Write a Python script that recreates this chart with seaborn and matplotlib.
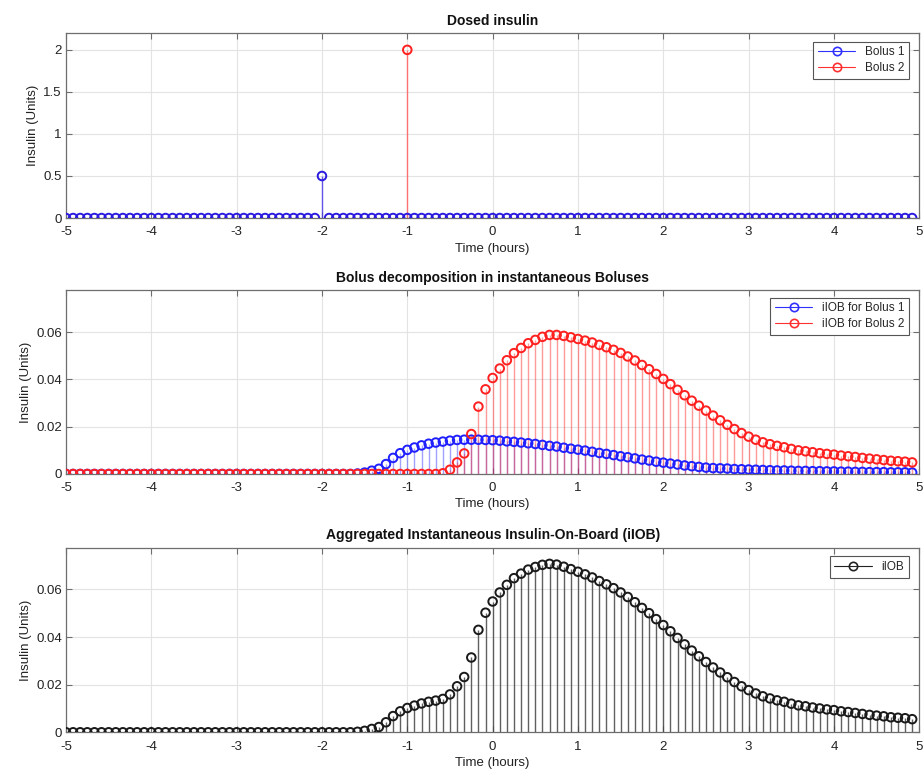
import numpy as np
import matplotlib
matplotlib.use("Agg")
import matplotlib.pyplot as plt
from matplotlib.lines import Line2D
import seaborn as sns

# ---------------- data ----------------
time_hours = np.arange(-60, 60) / 12.0          # 5-minute grid, -5 h .. 4.92 h

bolus1_dose = [0.0] * 36 + [0.5] + [0.0] * 83    # 0.5 U at t = -2 h
bolus2_time = [-1.0]
bolus2_dose = [2.0]                              # 2 U at t = -1 h

iiob_bolus1 = [0.0] * 41 + [
    0.0002, 0.0006, 0.0014, 0.0022, 0.0042, 0.0068, 0.0088, 0.0102, 0.0112, 0.0121,
    0.0128, 0.0133, 0.0137, 0.0141, 0.0144, 0.0145, 0.0145, 0.0145, 0.0144, 0.0143,
    0.0141, 0.0138, 0.0136, 0.0133, 0.0130, 0.0127, 0.0123, 0.0119, 0.0116, 0.0111,
    0.0107, 0.0103, 0.0099, 0.0094, 0.0089, 0.0085, 0.0080, 0.0075, 0.0071, 0.0066,
    0.0061, 0.0057, 0.0052, 0.0048, 0.0044, 0.0040, 0.0036, 0.0033, 0.0030, 0.0027,
    0.0025, 0.0024, 0.0023, 0.0021, 0.0020, 0.0019, 0.0018, 0.0017, 0.0016, 0.0015,
    0.0015, 0.0014, 0.0013, 0.0013, 0.0012, 0.0012, 0.0011, 0.0011, 0.0010, 0.0010,
    0.0009, 0.0009, 0.0008, 0.0008, 0.0008, 0.0007, 0.0007, 0.0007, 0.0006]

iiob_bolus2 = [0.0] * 53 + [
    0.0003, 0.0018, 0.0049, 0.0087, 0.0169, 0.0285, 0.0358, 0.0406, 0.0446, 0.0481,
    0.0511, 0.0533, 0.0553, 0.0567, 0.0580, 0.0588, 0.0588, 0.0584, 0.0578, 0.0571,
    0.0564, 0.0556, 0.0546, 0.0536, 0.0525, 0.0512, 0.0497, 0.0480, 0.0461, 0.0443,
    0.0423, 0.0402, 0.0380, 0.0356, 0.0333, 0.0310, 0.0289, 0.0268, 0.0247, 0.0227,
    0.0208, 0.0190, 0.0173, 0.0158, 0.0145, 0.0134, 0.0126, 0.0119, 0.0113, 0.0106,
    0.0100, 0.0096, 0.0092, 0.0088, 0.0085, 0.0082, 0.0078, 0.0075, 0.0072, 0.0068,
    0.0065, 0.0062, 0.0059, 0.0056, 0.0054, 0.0052, 0.0049]

iiob_total = [0.0] * 41 + [
    0.0002, 0.0006, 0.0014, 0.0022, 0.0042, 0.0068, 0.0088, 0.0102, 0.0112, 0.0121,
    0.0128, 0.0133, 0.0140, 0.0159, 0.0193, 0.0232, 0.0314, 0.0430, 0.0502, 0.0549,
    0.0587, 0.0619, 0.0647, 0.0666, 0.0683, 0.0694, 0.0703, 0.0707, 0.0704, 0.0695,
    0.0685, 0.0674, 0.0663, 0.0650, 0.0635, 0.0621, 0.0605, 0.0587, 0.0568, 0.0546,
    0.0522, 0.0500, 0.0475, 0.0450, 0.0424, 0.0396, 0.0369, 0.0343, 0.0319, 0.0295,
    0.0272, 0.0251, 0.0231, 0.0211, 0.0193, 0.0177, 0.0163, 0.0151, 0.0142, 0.0134,
    0.0128, 0.0120, 0.0113, 0.0109, 0.0104, 0.0100, 0.0096, 0.0093, 0.0088, 0.0085,
    0.0081, 0.0077, 0.0073, 0.0070, 0.0067, 0.0063, 0.0061, 0.0059, 0.0055]

x_ticks = [-5, -4, -3, -2, -1, 0, 1, 2, 3, 4, 5]
x_tick_labels = ["-5", "-4", "-3", "-2", "-1", "0", "1", "2", "3", "4", "5"]
y_ticks_dose = [0, 0.5, 1, 1.5, 2]
y_tick_labels_dose = ["0", "0.5", "1", "1.5", "2"]
y_ticks_iob = [0, 0.02, 0.04, 0.06]
y_tick_labels_iob = ["0", "0.02", "0.04", "0.06"]

titles = ["Dosed insulin",
          "Bolus decomposition in instantaneous Boluses",
          "Aggregated Instantaneous Insulin-On-Board (iIOB)"]

# ---------------- style ----------------
sns.set_theme(style="whitegrid")
plt.rcParams["font.family"] = ["Liberation Sans", "DejaVu Sans"]
plt.rcParams["axes.unicode_minus"] = False

fig = plt.figure(figsize=(9.24, 7.74), dpi=100)
left, width = 0.0714, 0.9235
ax1 = fig.add_axes([left, 0.7183, width, 0.2390])
ax2 = fig.add_axes([left, 0.3876, width, 0.2377])
ax3 = fig.add_axes([left, 0.0539, width, 0.2385])

MS = 38
MLW = 1.4


def stems(ax, x, y, color, alpha):
    ax.vlines(x, 0, y, colors=color, linewidth=1.0, alpha=alpha, zorder=2)


def circles(ax, x, y, color):
    sns.scatterplot(x=np.asarray(x), y=np.asarray(y), ax=ax, marker="o", s=MS,
                    facecolor="none", edgecolor=color, linewidth=MLW, zorder=3,
                    legend=False)


def style_axes(ax, title, yticks, ylabels, ymax):
    ax.set_xlim(-5, 5)
    ax.set_ylim(0, ymax)
    ax.set_xticks(x_ticks)
    ax.set_xticklabels(x_tick_labels)
    ax.set_yticks(yticks)
    ax.set_yticklabels(ylabels)
    ax.set_title(title, fontsize=10, fontweight="bold", pad=6, color="#111111")
    ax.set_xlabel("Time (hours)", fontsize=9.5, labelpad=3, color="#222222")
    ax.set_ylabel("Insulin (Units)", fontsize=9.5, labelpad=3, color="#222222")
    ax.grid(True, color="#e3e3e3", linewidth=0.8)
    ax.set_axisbelow(True)
    for sp in ax.spines.values():
        sp.set_color("#6e6e6e")
        sp.set_linewidth(0.9)
        sp.set_visible(True)
    ax.tick_params(axis="both", direction="in", length=4, width=0.8,
                   colors="#6e6e6e", labelcolor="#222222", labelsize=9.5,
                   top=True, right=True, bottom=True, left=True)
    ax.tick_params(axis="x", pad=6)
    ax.tick_params(axis="y", pad=3)


def legend(ax, labels, colors, bbox):
    handles = [Line2D([], [], color=c, linewidth=0.8, marker="o",
                      markerfacecolor="none", markeredgecolor=c,
                      markersize=6, markeredgewidth=1.2) for c in colors]
    lg = ax.legend(handles, labels, loc="upper right", bbox_to_anchor=bbox,
                   fontsize=8.5, frameon=True, fancybox=False, framealpha=1,
                   edgecolor="#555555", handlelength=3.2, handletextpad=0.8,
                   borderpad=0.4, labelspacing=0.3, numpoints=1)
    lg.get_frame().set_linewidth(0.8)


# ---- panel 1: dosed insulin ----
stems(ax1, time_hours, bolus1_dose, "#4a3ae6", 0.85)
stems(ax1, bolus2_time, bolus2_dose, "#ff6666", 0.9)
circles(ax1, bolus2_time, bolus2_dose, "#ff2020")
circles(ax1, time_hours, bolus1_dose, "#2a1ae0")
style_axes(ax1, titles[0], y_ticks_dose, y_tick_labels_dose, 2.2)
legend(ax1, ["Bolus 1", "Bolus 2"], ["#3030ff", "#ff3030"], (0.995, 0.985))

# ---- panel 2: decomposition ----
stems(ax2, time_hours, iiob_bolus1, "#3030ff", 0.45)
stems(ax2, time_hours, iiob_bolus2, "#ff2020", 0.45)
circles(ax2, time_hours, iiob_bolus1, "#2020ff")
circles(ax2, time_hours, iiob_bolus2, "#ff2020")
style_axes(ax2, titles[1], y_ticks_iob, y_tick_labels_iob, 0.0778)
legend(ax2, ["iIOB for Bolus 1", "iIOB for Bolus 2"], ["#3030ff", "#ff3030"], (0.995, 0.99))

# ---- panel 3: aggregated ----
stems(ax3, time_hours, iiob_total, "#444444", 0.85)
circles(ax3, time_hours, iiob_total, "#1a1a1a")
style_axes(ax3, titles[2], y_ticks_iob, y_tick_labels_iob, 0.0775)
legend(ax3, ["iIOB"], ["#222222"], (0.995, 0.985))

fig.savefig("out.png", dpi=100)
